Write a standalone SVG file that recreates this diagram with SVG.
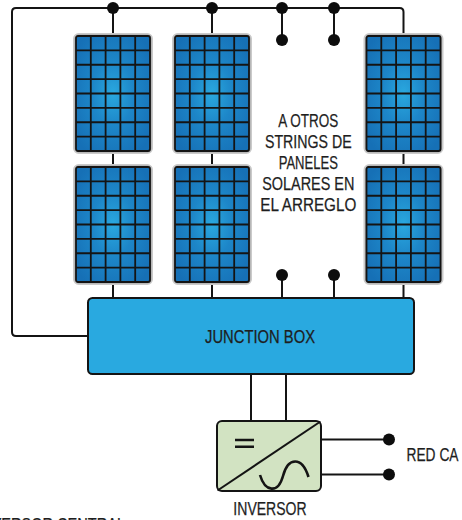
<svg xmlns="http://www.w3.org/2000/svg" xmlns:xlink="http://www.w3.org/1999/xlink" width="462" height="520" viewBox="0 0 462 520">
  <style>
    .wire { fill: none; stroke: #141414; stroke-width: 2; }
    .dot { fill: #0d0d0d; }
    .label { font-family: "Liberation Sans", Arial, sans-serif; font-size: 18.5px; fill: #1e1e1e; stroke: #1e1e1e; stroke-width: 0.25; }
    .mid { text-anchor: middle; }
  </style>
  <defs>
    <radialGradient id="cellGlow" cx="0.5" cy="0.5" r="0.62">
      <stop offset="0" stop-color="#2aa8df"/>
      <stop offset="0.45" stop-color="#1d86c8"/>
      <stop offset="1" stop-color="#1670b6"/>
    </radialGradient>
    <!-- solar panel: 80 x 121, 5 x 8 cells -->
    <g id="panel">
      <rect x="0.75" y="0.75" width="78.5" height="119.5" rx="5" fill="#a6a6a6" stroke="#cacaca" stroke-width="1.5"/>
      <rect x="3" y="3" width="74" height="115" rx="2" fill="url(#cellGlow)" stroke="#141414" stroke-width="1.8"/>
      <path d="M17.8,3 V118 M32.6,3 V118 M47.4,3 V118 M62.2,3 V118 M3,17.4 H77 M3,31.75 H77 M3,46.1 H77 M3,60.5 H77 M3,74.9 H77 M3,89.25 H77 M3,103.6 H77" stroke="#141414" stroke-width="1.8" fill="none"/>
    </g>
  </defs>

  <rect width="462" height="520" fill="#ffffff"/>

  <g id="connectors">
    <!-- main bus with return loop into the junction box -->
    <path class="wire" d="M88,336 H16 Q12,336 12,332 V12 Q12,8 16,8 H399.5 Q403.5,8 403.5,12 V33"/>
    <!-- string drops -->
    <path class="wire" d="M113,8 V33 M212,8 V33 M282,8 V40 M334,8 V40"/>
    <path class="wire" d="M113,154 V164 M212,154 V164 M403.5,154 V164"/>
    <path class="wire" d="M113,285 V298 M212,285 V298 M403.5,285 V298 M282,275 V298 M334,275 V298"/>
    <!-- junction box to inverter -->
    <path class="wire" d="M251,374 V421 M286,374 V421"/>
    <!-- inverter to grid -->
    <path class="wire" d="M321,439.5 H389 M321,474.5 H389"/>
    <circle class="dot" cx="113" cy="8" r="6"/>
    <circle class="dot" cx="212" cy="8" r="6"/>
    <circle class="dot" cx="282" cy="8" r="6"/>
    <circle class="dot" cx="334" cy="8" r="6"/>
    <circle class="dot" cx="282" cy="40" r="6"/>
    <circle class="dot" cx="334" cy="40" r="6"/>
    <circle class="dot" cx="282" cy="275" r="6"/>
    <circle class="dot" cx="334" cy="275" r="6"/>
    <circle class="dot" cx="389" cy="439.5" r="6"/>
    <circle class="dot" cx="389" cy="474.5" r="6"/>
  </g>

  <g id="panel-1a"><use xlink:href="#panel" x="73" y="33"/></g>
  <g id="panel-1b"><use xlink:href="#panel" x="73" y="164"/></g>
  <g id="panel-2a"><use xlink:href="#panel" x="172" y="33"/></g>
  <g id="panel-2b"><use xlink:href="#panel" x="172" y="164"/></g>
  <g id="panel-3a"><use xlink:href="#panel" x="363.5" y="33"/></g>
  <g id="panel-3b"><use xlink:href="#panel" x="363.5" y="164"/></g>

  <g id="other-strings">
    <text class="label mid" x="308.3" y="126.5" textLength="60" lengthAdjust="spacingAndGlyphs">A OTROS</text>
    <text class="label mid" x="308.3" y="147.7" textLength="86.7" lengthAdjust="spacingAndGlyphs">STRINGS DE</text>
    <text class="label mid" x="308.3" y="168.7" textLength="59.3" lengthAdjust="spacingAndGlyphs">PANELES</text>
    <text class="label mid" x="308.3" y="190" textLength="92.3" lengthAdjust="spacingAndGlyphs">SOLARES EN</text>
    <text class="label mid" x="308.3" y="211" textLength="96" lengthAdjust="spacingAndGlyphs">EL ARREGLO</text>
  </g>

  <g id="junction-box">
    <rect x="88" y="298" width="326" height="76" rx="4.5" fill="#29a9e0" stroke="#141414" stroke-width="2"/>
    <text class="label mid" x="260" y="343" style="font-size:17.5px" textLength="110" lengthAdjust="spacingAndGlyphs">JUNCTION BOX</text>
  </g>

  <g id="inverter">
    <rect x="217" y="421" width="104" height="70" rx="5" fill="#d2e3c2" stroke="#141414" stroke-width="2"/>
    <path d="M217.5,490.5 L320.5,421.5" stroke="#141414" stroke-width="2" fill="none"/>
    <path d="M235,440 H254 M235,446.7 H254" stroke="#141414" stroke-width="2.6" fill="none"/>
    <path d="M260,475 C265,492 278,494 283,476 C288,457 302,456 308.5,477" stroke="#141414" stroke-width="2.6" fill="none"/>
    <text class="label mid" x="270" y="515" textLength="73.3" lengthAdjust="spacingAndGlyphs">INVERSOR</text>
  </g>

  <g id="grid">
    <text class="label" x="406.5" y="461" textLength="52" lengthAdjust="spacingAndGlyphs">RED CA</text>
  </g>

  <g id="caption">
    <text class="label" x="-23" y="530.5" textLength="148" lengthAdjust="spacingAndGlyphs">INVERSOR CENTRAL</text>
  </g>
</svg>
